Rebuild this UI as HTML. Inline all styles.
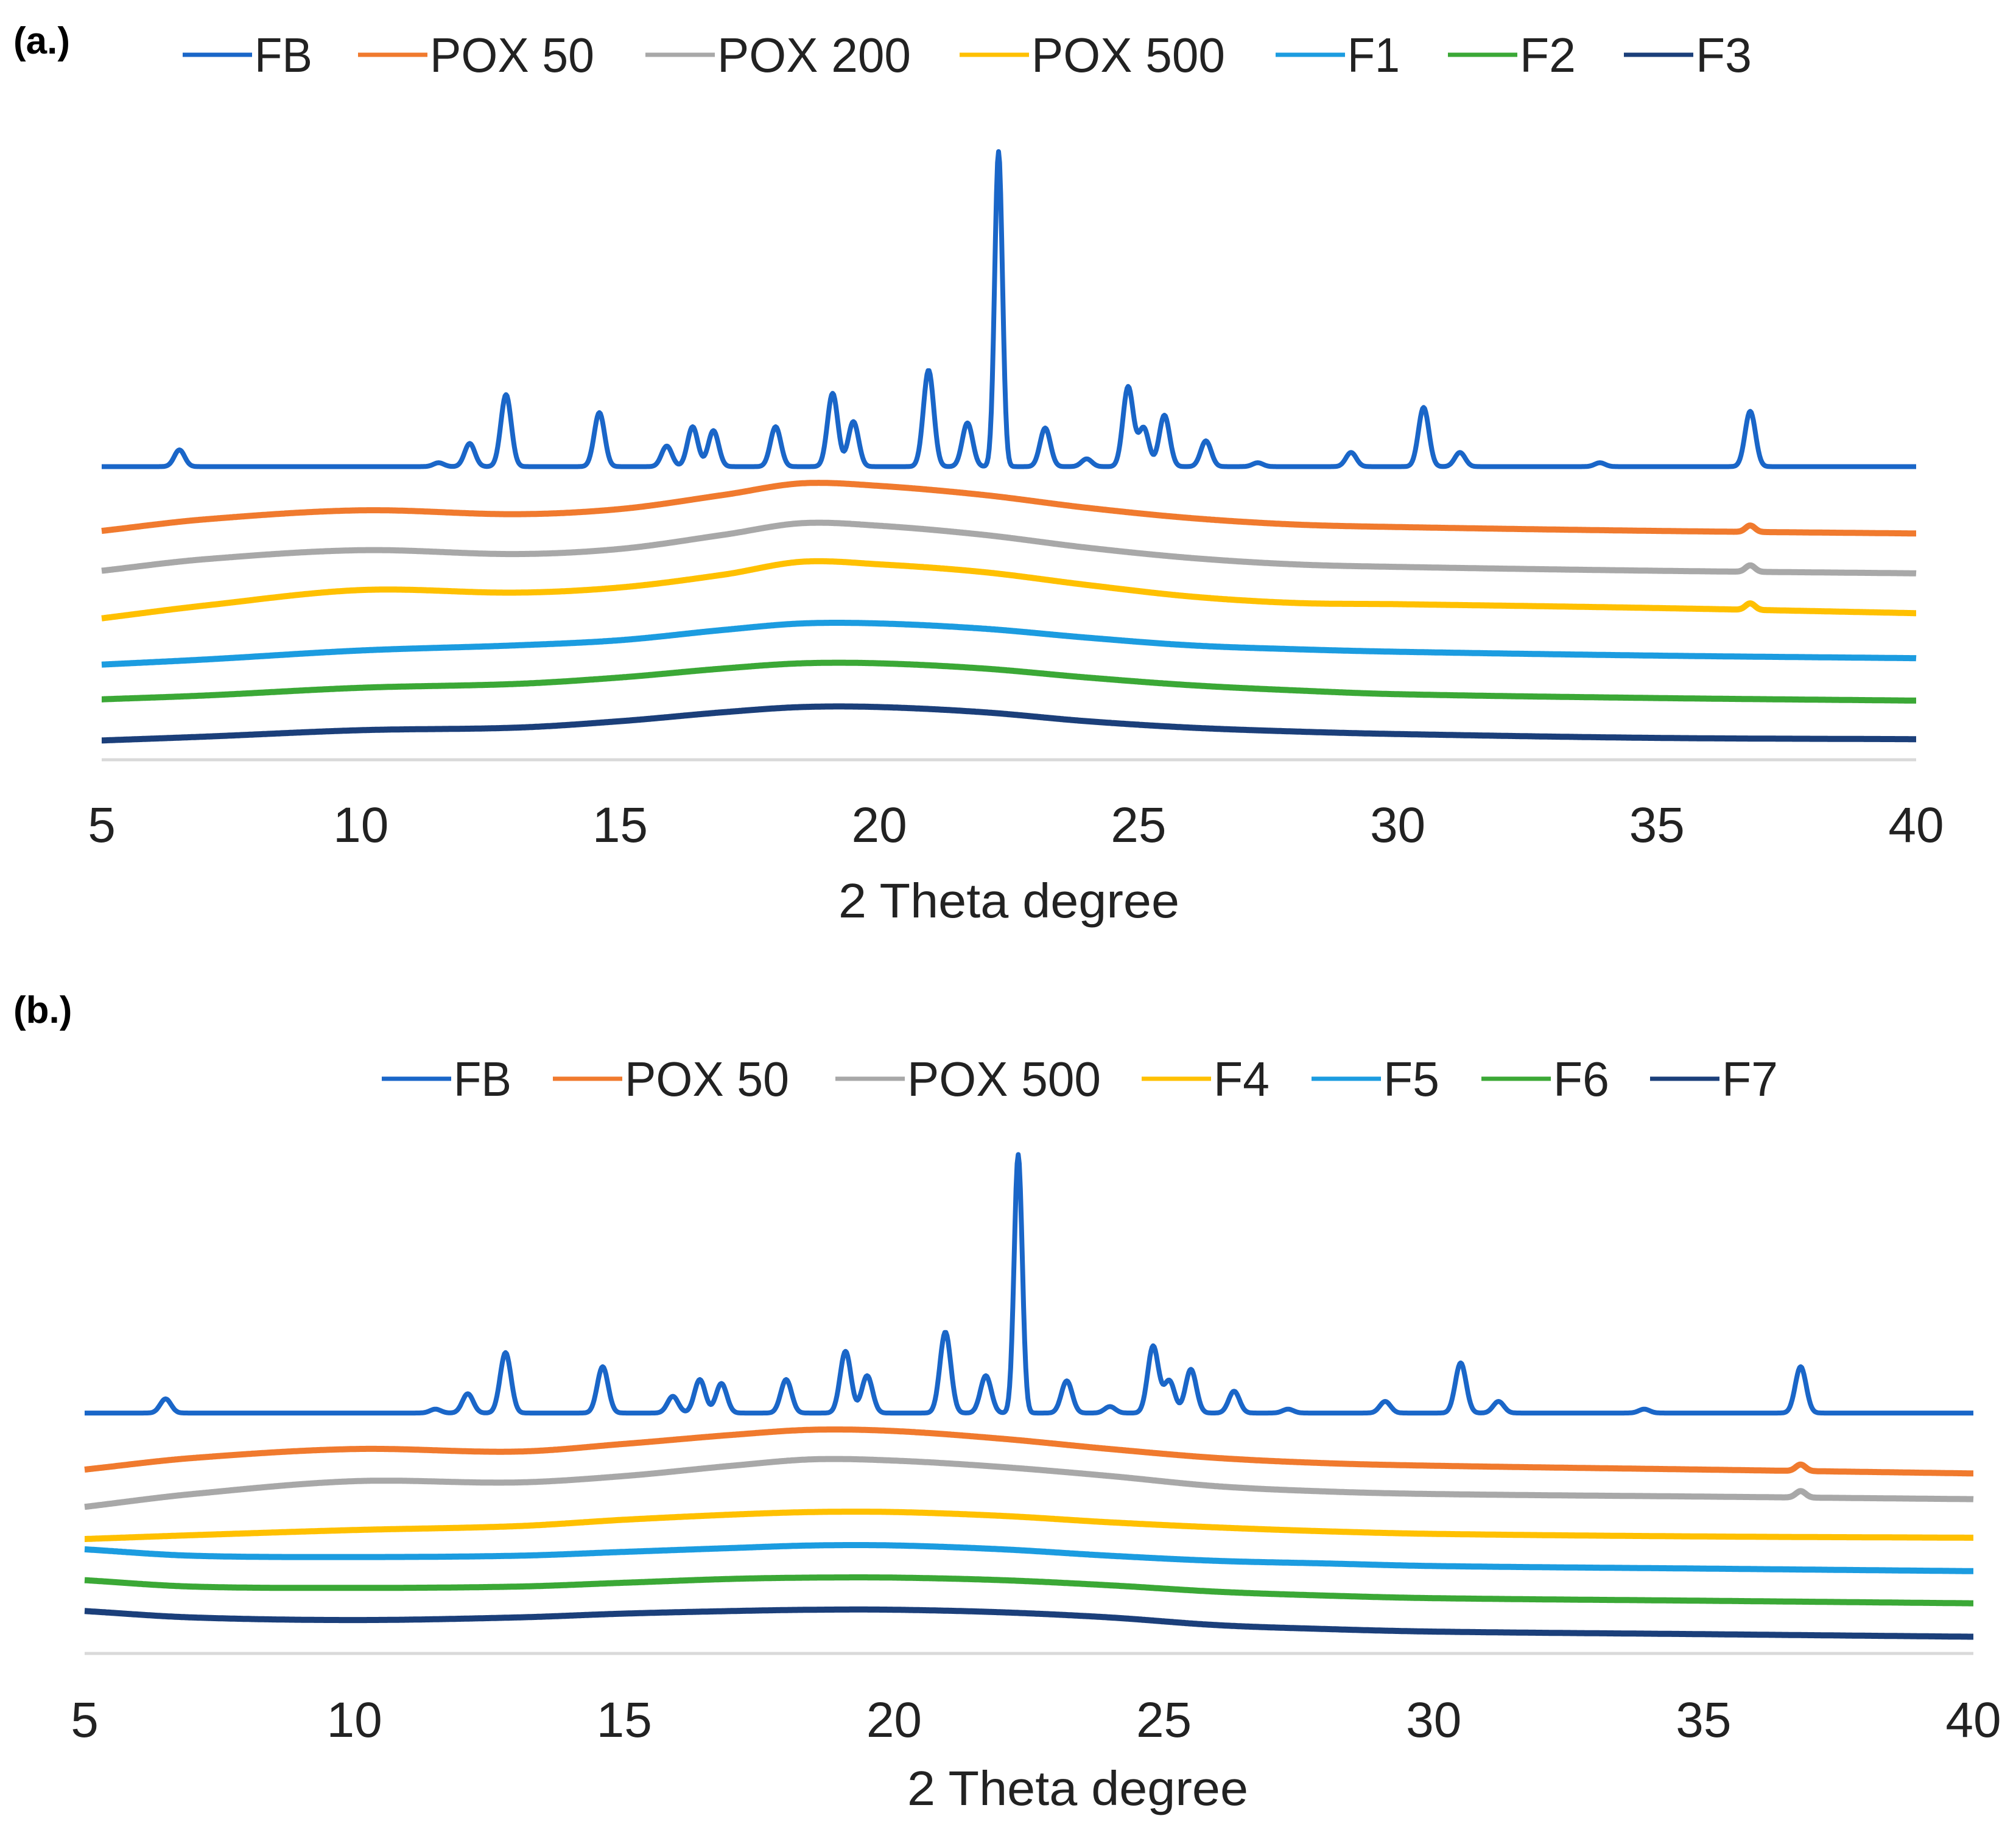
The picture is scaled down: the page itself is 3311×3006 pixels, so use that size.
<!DOCTYPE html>
<html><head><meta charset="utf-8"><style>
html,body{margin:0;padding:0;background:#fff;}
svg{display:block;font-family:"Liberation Sans",sans-serif;}
</style></head><body>
<svg id="chart" width="3311" height="3006" viewBox="0 0 3311 3006" xmlns="http://www.w3.org/2000/svg"></svg>
<script>
const knots=[5,7,10,13,15,17,18.5,20,22,24,26,28,30,35,40];
const ticks=[5,10,15,20,25,30,35,40];
const peakPos=[6.5,11.5,12.1,12.8,14.6,15.9,16.4,16.8,18.0,19.1,19.5,20.95,21.7,22.3,23.2,24.0,24.8,25.1,25.5,26.3,27.3,29.1,30.5,31.2,33.9,36.8];
const peakA=[13,3,18,56,42,16,31,28,31,57,35,75,34,245,30,6,62,30,40,20,3,11,46,11,3,43];
const peakB=[11,3,15,47,36,13,26,23,26,48,29,63,29,201,25,5,52,25,34,17,3,9,39,9,3,36];
const fbBaseA=228, fbBaseB=187;
const orangeA=[178,187,194,191,195,206,215,213,206,196,188,183,181,178,176];
const grayA=[147,156,163,160,164,175,184,182,175,165,157,152,150,147,145];
const yellowA=[110,120,132,130,134,144,154,152,146,136,127,122,121,118,114];
const f1A=[74,78,85,89,93,101,106,106,102,95,89,86,84,81,79];
const f2A=[47,50,56,59,64,71,75,75,71,64,58,54,51,48,46];
const f3A=[15,18,23,25,30,37,41,41,37,30,25,22,20,17,16];
const orangeB=[143,152,159,157,163,170,174,173,167,159,152,148,146,143,140];
const grayB=[114,124,134,133,138,146,151,150,145,138,130,126,124,122,120];
const f4B=[89,92,96,99,104,108,110,110,107,102,98,95,93,91,90];
const f5B=[81,76,75,76,79,82,84,84,81,76,72,70,68,66,64];
const f6B=[57,52,51,52,55,58,59,59,57,53,48,45,43,41,39];
const f7B=[33,28,26,28,31,33,34,34,32,28,22,19,17,15,13];
const smallPeakPos=36.8, smallPeakH=5;

const C={fb:'#1a66c8',or:'#f07a2e',gr:'#a8a8a8',ye:'#ffc000',lb:'#1c9ce0',gn:'#3ba836',nv:'#1b3f7a'};
const svg=document.getElementById('chart');
const NS='http://www.w3.org/2000/svg';
function mk(tag,attrs,parent){const e=document.createElementNS(NS,tag);for(const k in attrs)e.setAttribute(k,attrs[k]);(parent||svg).appendChild(e);return e;}

function interp(vals,x){
  const n=knots.length;
  let i=0;while(i<n-2&&x>knots[i+1])i++;
  const x0=knots[i],x1=knots[i+1],t=(x-x0)/(x1-x0);
  const p0=vals[i],p1=vals[i+1];
  const m0=i>0?(vals[i+1]-vals[i-1])/(knots[i+1]-knots[i-1]):(vals[1]-vals[0])/(knots[1]-knots[0]);
  const m1=i<n-2?(vals[i+2]-vals[i])/(knots[i+2]-knots[i]):(vals[n-1]-vals[n-2])/(knots[n-1]-knots[n-2]);
  const h=x1-x0,t2=t*t,t3=t2*t;
  return (2*t3-3*t2+1)*p0+(t3-2*t2+t)*h*m0+(-2*t3+3*t2)*p1+(t3-t2)*h*m1;
}
function peaksAt(x,heights){let s=0;for(let i=0;i<peakPos.length;i++){const sg=peakPos[i]===22.3?0.075:0.1;const d=(x-peakPos[i])/sg;s+=heights[i]*Math.exp(-0.5*d*d);}return s;}

function panel(p){
  const g=mk('g',{});
  
  
  const xS=v=>p.x0+(v-5)/(35)*(p.x1-p.x0);
  const yS=v=>p.axisY-v*2.112;
  const lab=mk('text',{x:p.labX,y:p.labY,'font-size':62,'font-weight':'bold',fill:'#000'},g);
  lab.textContent=p.label;
  
  
  p.legend.forEach(l=>{
    const lg=mk('g',{},g);
    
    
    mk('line',{x1:l.lx,x2:l.lx+114,y1:p.legY,y2:p.legY,stroke:l.c,'stroke-width':7},lg);
    const t=mk('text',{x:l.lx+118,y:p.legY+28,'font-size':80,fill:'#222',textLength:l.tw,lengthAdjust:'spacingAndGlyphs'},lg);
    t.textContent=l.t;
  });
  const ax=mk('line',{x1:p.x0,x2:p.x1,y1:p.axisY,y2:p.axisY,stroke:'#d9d9d9','stroke-width':5},g);
  
  
  ticks.forEach(tv=>{
    const t=mk('text',{x:xS(tv),y:p.tickY,'font-size':82,fill:'#222','text-anchor':'middle'},g);
    t.textContent=tv;
    
    
  });
  const tt=mk('text',{x:p.titleX,y:p.titleY,'font-size':80,fill:'#222','text-anchor':'middle',textLength:560,lengthAdjust:'spacingAndGlyphs'},g);
  tt.textContent='2 Theta degree';
  
  
  p.series.forEach(s=>{
    let d='';
    for(let x=5;x<=40.0001;x+=0.02){
      let v=s.fb?s.base+peaksAt(x,s.peaks):interp(s.vals,x);
      if(s.small){const dd=(x-smallPeakPos)/0.09;v+=smallPeakH*Math.exp(-0.5*dd*dd);}
      d+=(d?'L':'M')+xS(x).toFixed(1)+','+yS(v).toFixed(1);
    }
    const path=mk('path',{d:d,fill:'none',stroke:s.c,'stroke-width':s.fb?8:10,'stroke-linejoin':'round'},g);
    
    
  });
}

panel({name:'panel-a',label:'(a.)',labX:22,labY:88,legY:90,x0:167,x1:3147,axisY:1248,tickY:1383,titleX:1657,titleY:1507,
 legend:[{lx:300,t:'FB',c:C.fb,tw:95},{lx:588,t:'POX 50',c:C.or,tw:270},{lx:1060,t:'POX 200',c:C.gr,tw:318},{lx:1576,t:'POX 500',c:C.ye,tw:318},{lx:2095,t:'F1',c:C.lb,tw:86},{lx:2378,t:'F2',c:C.gn,tw:92},{lx:2667,t:'F3',c:C.nv,tw:92}],
 series:[{name:'series-fb',fb:true,base:fbBaseA,peaks:peakA,c:C.fb},{name:'series-pox-50',vals:orangeA,c:C.or,small:true},{name:'series-pox-200',vals:grayA,c:C.gr,small:true},{name:'series-pox-500',vals:yellowA,c:C.ye,small:true},{name:'series-f1',vals:f1A,c:C.lb},{name:'series-f2',vals:f2A,c:C.gn},{name:'series-f3',vals:f3A,c:C.nv}]});

panel({name:'panel-b',label:'(b.)',labX:22,labY:1680,legY:1772,x0:139,x1:3241,axisY:2716,tickY:2853,titleX:1770,titleY:2965,
 legend:[{lx:627,t:'FB',c:C.fb,tw:95},{lx:908,t:'POX 50',c:C.or,tw:270},{lx:1372,t:'POX 500',c:C.gr,tw:318},{lx:1875,t:'F4',c:C.ye,tw:92},{lx:2154,t:'F5',c:C.lb,tw:92},{lx:2433,t:'F6',c:C.gn,tw:92},{lx:2710,t:'F7',c:C.nv,tw:92}],
 series:[{name:'series-fb',fb:true,base:fbBaseB,peaks:peakB,c:C.fb},{name:'series-pox-50',vals:orangeB,c:C.or,small:true},{name:'series-pox-500',vals:grayB,c:C.gr,small:true},{name:'series-f4',vals:f4B,c:C.ye},{name:'series-f5',vals:f5B,c:C.lb},{name:'series-f6',vals:f6B,c:C.gn},{name:'series-f7',vals:f7B,c:C.nv}]});
</script>
</body></html>
